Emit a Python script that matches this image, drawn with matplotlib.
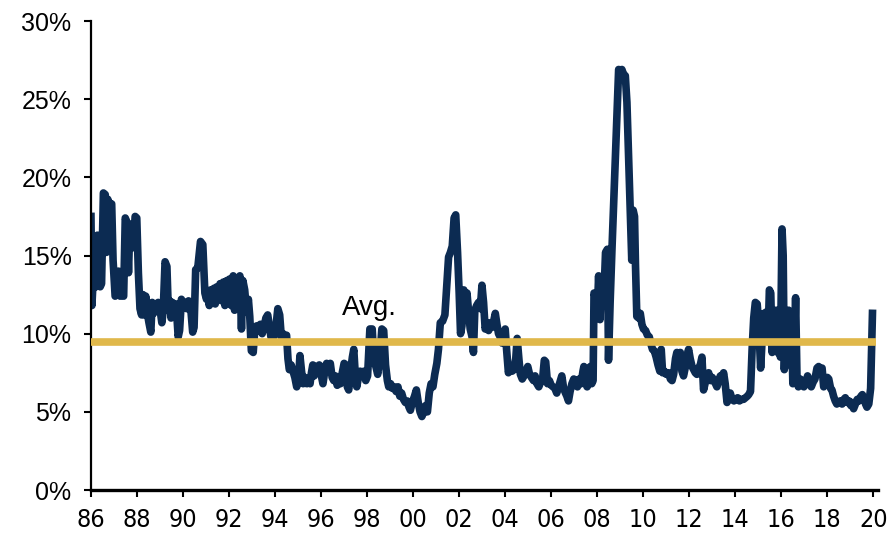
import matplotlib.pyplot as plt
from matplotlib import font_manager

# data (year as decimal, value in %)
years = [
    1986.00, 1986.04, 1986.08, 1986.12, 1986.18, 1986.22, 1986.28, 1986.34, 1986.40, 1986.46,
    1986.54, 1986.62, 1986.67, 1986.73, 1986.80, 1986.90, 1986.96, 1987.05, 1987.12, 1987.20,
    1987.27, 1987.35, 1987.42, 1987.49, 1987.57, 1987.63, 1987.69, 1987.77, 1987.84, 1987.92,
    1987.99, 1988.06, 1988.13, 1988.20, 1988.26, 1988.32, 1988.38, 1988.45, 1988.52, 1988.60,
    1988.66, 1988.72, 1988.78, 1988.85, 1988.92, 1988.98, 1989.08, 1989.14, 1989.22, 1989.30,
    1989.36, 1989.42, 1989.48, 1989.54, 1989.62, 1989.70, 1989.79, 1989.85, 1989.93, 1990.00,
    1990.08, 1990.16, 1990.24, 1990.32, 1990.42, 1990.48, 1990.55, 1990.64, 1990.76, 1990.86,
    1990.95, 1991.02, 1991.08, 1991.14, 1991.20, 1991.27, 1991.34, 1991.40, 1991.47, 1991.54,
    1991.61, 1991.68, 1991.75, 1991.82, 1991.90, 1991.96, 1992.03, 1992.10, 1992.18, 1992.24,
    1992.32, 1992.40, 1992.47, 1992.54, 1992.60, 1992.68, 1992.76, 1992.84, 1992.90, 1992.97,
    1993.05, 1993.12, 1993.20, 1993.28, 1993.36, 1993.44, 1993.52, 1993.60, 1993.68, 1993.74,
    1993.82, 1993.88, 1993.94, 1994.02, 1994.12, 1994.20, 1994.27, 1994.35, 1994.42, 1994.50,
    1994.56, 1994.62, 1994.70, 1994.78, 1994.86, 1994.94, 1995.02, 1995.08, 1995.15, 1995.22,
    1995.30, 1995.38, 1995.45, 1995.52, 1995.58, 1995.64, 1995.70, 1995.76, 1995.84, 1995.92,
    1996.00, 1996.08, 1996.16, 1996.24, 1996.32, 1996.40, 1996.48, 1996.55, 1996.62, 1996.70,
    1996.78, 1996.84, 1996.92, 1997.00, 1997.08, 1997.14, 1997.20, 1997.28, 1997.36, 1997.42,
    1997.48, 1997.55, 1997.62, 1997.70, 1997.78, 1997.86, 1997.94, 1998.02, 1998.12, 1998.22,
    1998.30, 1998.38, 1998.46, 1998.56, 1998.64, 1998.72, 1998.80, 1998.88, 1998.94, 1999.02,
    1999.10, 1999.18, 1999.26, 1999.34, 1999.42, 1999.50, 1999.58, 1999.66, 1999.74, 1999.82,
    1999.88, 1999.96, 2000.06, 2000.14, 2000.22, 2000.30, 2000.38, 2000.46, 2000.54, 2000.62,
    2000.70, 2000.78, 2000.86, 2000.94, 2001.03, 2001.10, 2001.18, 2001.28, 2001.38, 2001.46,
    2001.54, 2001.62, 2001.70, 2001.78, 2001.85, 2001.93, 2002.00, 2002.06, 2002.12, 2002.20,
    2002.28, 2002.34, 2002.42, 2002.48, 2002.56, 2002.62, 2002.68, 2002.76, 2002.84, 2002.92,
    2002.99, 2003.06, 2003.13, 2003.20, 2003.28, 2003.35, 2003.42, 2003.50, 2003.57, 2003.64,
    2003.71, 2003.78, 2003.86, 2003.94, 2004.00, 2004.06, 2004.14, 2004.22, 2004.30, 2004.38,
    2004.46, 2004.52, 2004.60, 2004.66, 2004.74, 2004.82, 2004.90, 2004.98, 2005.06, 2005.14,
    2005.23, 2005.30, 2005.38, 2005.46, 2005.54, 2005.62, 2005.70, 2005.76, 2005.84, 2005.92,
    2006.00, 2006.08, 2006.16, 2006.24, 2006.32, 2006.40, 2006.46, 2006.54, 2006.62, 2006.68,
    2006.75, 2006.82, 2006.90, 2006.98, 2007.06, 2007.14, 2007.22, 2007.30, 2007.38, 2007.42,
    2007.50, 2007.56, 2007.64, 2007.70, 2007.76, 2007.82, 2007.86, 2007.94, 2008.00, 2008.06,
    2008.12, 2008.18, 2008.24, 2008.30, 2008.36, 2008.44, 2008.49, 2008.56, 2008.64, 2008.93,
    2009.00, 2009.07, 2009.14, 2009.22, 2009.29, 2009.36, 2009.43, 2009.50, 2009.56, 2009.62,
    2009.66, 2009.72, 2009.80, 2009.87, 2009.94, 2010.01, 2010.10, 2010.18, 2010.26, 2010.34,
    2010.40, 2010.48, 2010.56, 2010.64, 2010.72, 2010.78, 2010.84, 2010.92, 2011.00, 2011.10,
    2011.18, 2011.25, 2011.32, 2011.40, 2011.46, 2011.54, 2011.61, 2011.68, 2011.75, 2011.82,
    2011.90, 2011.97, 2012.04, 2012.12, 2012.19, 2012.26, 2012.33, 2012.40, 2012.48, 2012.55,
    2012.62, 2012.70, 2012.78, 2012.84, 2012.92, 2013.00, 2013.06, 2013.14, 2013.20, 2013.28,
    2013.35, 2013.42, 2013.49, 2013.56, 2013.64, 2013.72, 2013.78, 2013.86, 2013.94, 2014.02,
    2014.10, 2014.18, 2014.26, 2014.36, 2014.44, 2014.52, 2014.58, 2014.66, 2014.73, 2014.80,
    2014.87, 2014.95, 2015.02, 2015.10, 2015.18, 2015.24, 2015.30, 2015.36, 2015.42, 2015.48,
    2015.54, 2015.60, 2015.66, 2015.72, 2015.78, 2015.84, 2015.90, 2015.96, 2016.03, 2016.08,
    2016.13, 2016.20, 2016.26, 2016.32, 2016.38, 2016.44, 2016.50, 2016.56, 2016.62, 2016.68,
    2016.74, 2016.82, 2016.90, 2016.98, 2017.06, 2017.14, 2017.22, 2017.30, 2017.38, 2017.46,
    2017.55, 2017.62, 2017.70, 2017.77, 2017.84, 2017.92, 2018.00, 2018.06, 2018.14, 2018.20,
    2018.27, 2018.34, 2018.41, 2018.48, 2018.56, 2018.64, 2018.72, 2018.78, 2018.86, 2018.94,
    2019.02, 2019.08, 2019.14, 2019.22, 2019.30, 2019.38, 2019.46, 2019.52, 2019.60, 2019.66,
    2019.72, 2019.80, 2019.88, 2019.96,
]
values = [
    17.5, 11.8, 13.0, 16.2, 16.0, 13.0, 16.3, 16.1, 13.0, 13.2,
    19.0, 18.9, 15.2, 18.6, 18.3, 18.3, 14.7, 12.4, 12.5, 14.0,
    12.4, 12.5, 12.4, 17.4, 17.1, 13.9, 17.0, 16.8, 15.5, 17.5,
    17.4, 13.9, 11.6, 11.2, 12.5, 11.2, 12.4, 11.3, 10.7, 10.1,
    12.0, 11.3, 11.9, 11.6, 12.0, 11.8, 10.7, 11.5, 14.6, 14.3,
    11.5, 12.1, 11.0, 12.0, 11.4, 11.9, 9.8, 10.2, 12.2, 11.9,
    12.0, 11.6, 12.1, 11.9, 10.1, 10.4, 14.1, 14.2, 15.9, 15.7,
    12.6, 12.2, 12.6, 11.8, 12.8, 12.2, 12.9, 11.9, 13.0, 12.3,
    13.2, 12.1, 13.3, 11.8, 13.4, 12.2, 13.5, 11.8, 13.7, 11.5,
    13.4, 11.6, 13.7, 10.3, 13.4, 12.8, 11.4, 12.2, 11.1, 8.9,
    8.8, 10.3, 10.5, 10.2, 10.6, 10.0, 10.4, 11.0, 11.2, 10.6,
    9.8, 10.0, 9.8, 10.2, 11.6, 11.2, 9.8, 10.0, 9.7, 9.9,
    8.4, 7.7, 8.0, 7.6, 7.2, 6.6, 7.0, 8.6, 7.6, 6.8,
    7.2, 6.8, 7.0, 6.8, 7.5, 8.0, 7.3, 7.9, 7.6, 8.0,
    7.4, 6.8, 7.6, 8.1, 7.8, 8.1, 7.2, 7.0, 7.3, 6.7,
    7.0, 6.8, 7.5, 8.1, 8.0, 6.6, 6.4, 7.6, 8.5, 9.0,
    7.5, 6.6, 7.2, 7.6, 7.3, 7.6, 7.0, 7.3, 10.3, 10.3,
    8.2, 7.9, 7.4, 8.6, 10.3, 10.2, 8.0, 7.0, 6.6, 6.8,
    6.5, 6.6, 6.3, 6.6, 6.0, 6.2, 5.8, 5.6, 5.7, 5.3,
    5.1, 5.6, 6.0, 6.4, 5.6, 5.0, 4.7, 5.0, 5.4, 5.0,
    6.2, 6.8, 6.6, 7.4, 8.1, 9.0, 10.7, 10.8, 11.2, 13.0,
    14.9, 15.2, 15.6, 17.4, 17.6, 15.2, 12.6, 10.0, 10.5, 12.8,
    12.2, 12.6, 11.2, 10.3, 9.8, 8.8, 11.5, 11.8, 12.0, 11.6,
    13.1, 12.0, 10.3, 10.6, 10.2, 10.7, 10.4, 10.8, 11.3, 10.6,
    10.0, 9.8, 9.4, 9.6, 10.3, 9.0, 7.5, 7.9, 7.6, 7.7,
    8.4, 9.7, 8.3, 7.4, 7.1, 7.3, 7.6, 7.9, 7.4, 7.2,
    7.0, 7.3, 6.8, 6.6, 6.9, 7.0, 8.3, 8.2, 6.8, 7.0,
    6.7, 6.6, 6.5, 6.2, 6.6, 7.0, 7.3, 6.5, 6.2, 6.0,
    5.7, 6.3, 6.8, 7.1, 6.9, 6.6, 7.1, 6.8, 7.6, 7.9,
    6.8, 6.6, 7.5, 7.9, 6.8, 7.0, 12.6, 12.2, 11.3, 13.7,
    10.9, 13.5, 11.8, 12.8, 15.2, 15.4, 8.3, 12.0, 15.4, 26.9,
    26.8, 26.9, 26.6, 26.5, 24.8, 21.5, 18.1, 14.7, 17.9, 17.5,
    14.5, 11.1, 11.0, 11.3, 10.6, 10.3, 10.2, 9.9, 9.8, 9.3,
    9.0, 8.9, 8.5, 8.0, 7.6, 9.0, 7.5, 7.6, 7.4, 7.5,
    7.1, 7.0, 7.4, 8.4, 8.8, 8.6, 8.8, 7.6, 7.3, 7.8,
    8.6, 9.0, 8.4, 7.9, 7.7, 7.5, 7.4, 7.8, 8.0, 8.5,
    6.4, 6.9, 7.4, 7.5, 7.0, 7.2, 7.0, 6.8, 6.6, 7.0,
    7.3, 7.1, 7.5, 6.8, 5.6, 5.9, 6.2, 5.8, 5.7, 5.8,
    5.9, 5.7, 5.8, 5.8, 5.9, 6.0, 6.1, 6.3, 9.0, 11.0,
    12.0, 11.9, 10.5, 7.8, 10.0, 11.3, 10.2, 11.4, 9.5, 12.8,
    12.6, 8.8, 11.0, 9.2, 11.5, 8.8, 11.2, 8.5, 16.7, 15.0,
    7.7, 11.0, 9.0, 11.5, 8.0, 11.2, 6.8, 8.5, 12.3, 7.2,
    6.6, 7.1, 7.0, 6.6, 6.8, 7.3, 7.0, 6.6, 6.9, 7.1,
    7.8, 7.9, 7.6, 7.8, 6.6, 6.8, 7.2, 7.1, 6.5, 6.4,
    6.0, 5.7, 5.5, 5.6, 5.7, 5.5, 5.8, 5.9, 5.6, 5.7,
    5.4, 5.6, 5.2, 5.5, 5.8, 5.7, 6.0, 6.1, 5.8, 5.5,
    5.3, 5.5, 6.5, 11.3,
]
avg = 9.45
avg_span = [1986.0, 2020.1]
tick_years = list(range(1986, 2021, 2))
tick_labels = ['%02d' % (y % 100) for y in tick_years]
y_ticks = [0, 5, 10, 15, 20, 25, 30]
y_labels = ['%d%%' % v for v in y_ticks]

navy = '#0C2B52'
gold = '#E0B84B'

# upright condensed font for the year labels if one is installed
xprop = font_manager.FontProperties(family='Liberation Sans', size=17)
for f in font_manager.fontManager.ttflist:
    narrow = 'Narrow' in f.name or 'Condensed' in f.name or f.stretch == 'condensed'
    if narrow and f.style == 'normal' and f.weight in (400, 'normal', 'regular', 'book'):
        xprop = font_manager.FontProperties(fname=f.fname, size=18)
        break

fig = plt.figure(figsize=(8.91, 5.36), dpi=100)
ax = fig.add_axes([0.1021, 0.0858, 0.8833, 0.875])

ax.plot(years, values, color=navy, lw=5.5, solid_joinstyle='round', zorder=2)
ax.plot(avg_span, [avg, avg], color=gold, lw=5.5, solid_capstyle='butt', zorder=3)
ax.text(1998.1, 11.2, 'Avg.', fontsize=20, family=['Liberation Sans', 'DejaVu Sans'],
        ha='center', va='baseline', color='black')

ax.set_xlim(1986, 2020.2)
ax.set_ylim(0, 30)
ax.set_xticks(tick_years)
ax.set_xticklabels(tick_labels, fontproperties=xprop)
ax.set_yticks(y_ticks)
ax.set_yticklabels(y_labels, family=['Liberation Sans', 'DejaVu Sans'], fontsize=18)

for s in ['top', 'right']:
    ax.spines[s].set_visible(False)
ax.spines['left'].set_linewidth(1.6)
ax.spines['bottom'].set_linewidth(2.4)
ax.tick_params(axis='both', direction='out', length=5, width=1.5, colors='black')
ax.tick_params(axis='x', pad=8)
ax.tick_params(axis='y', pad=9)

fig.savefig('out.png', dpi=100)
